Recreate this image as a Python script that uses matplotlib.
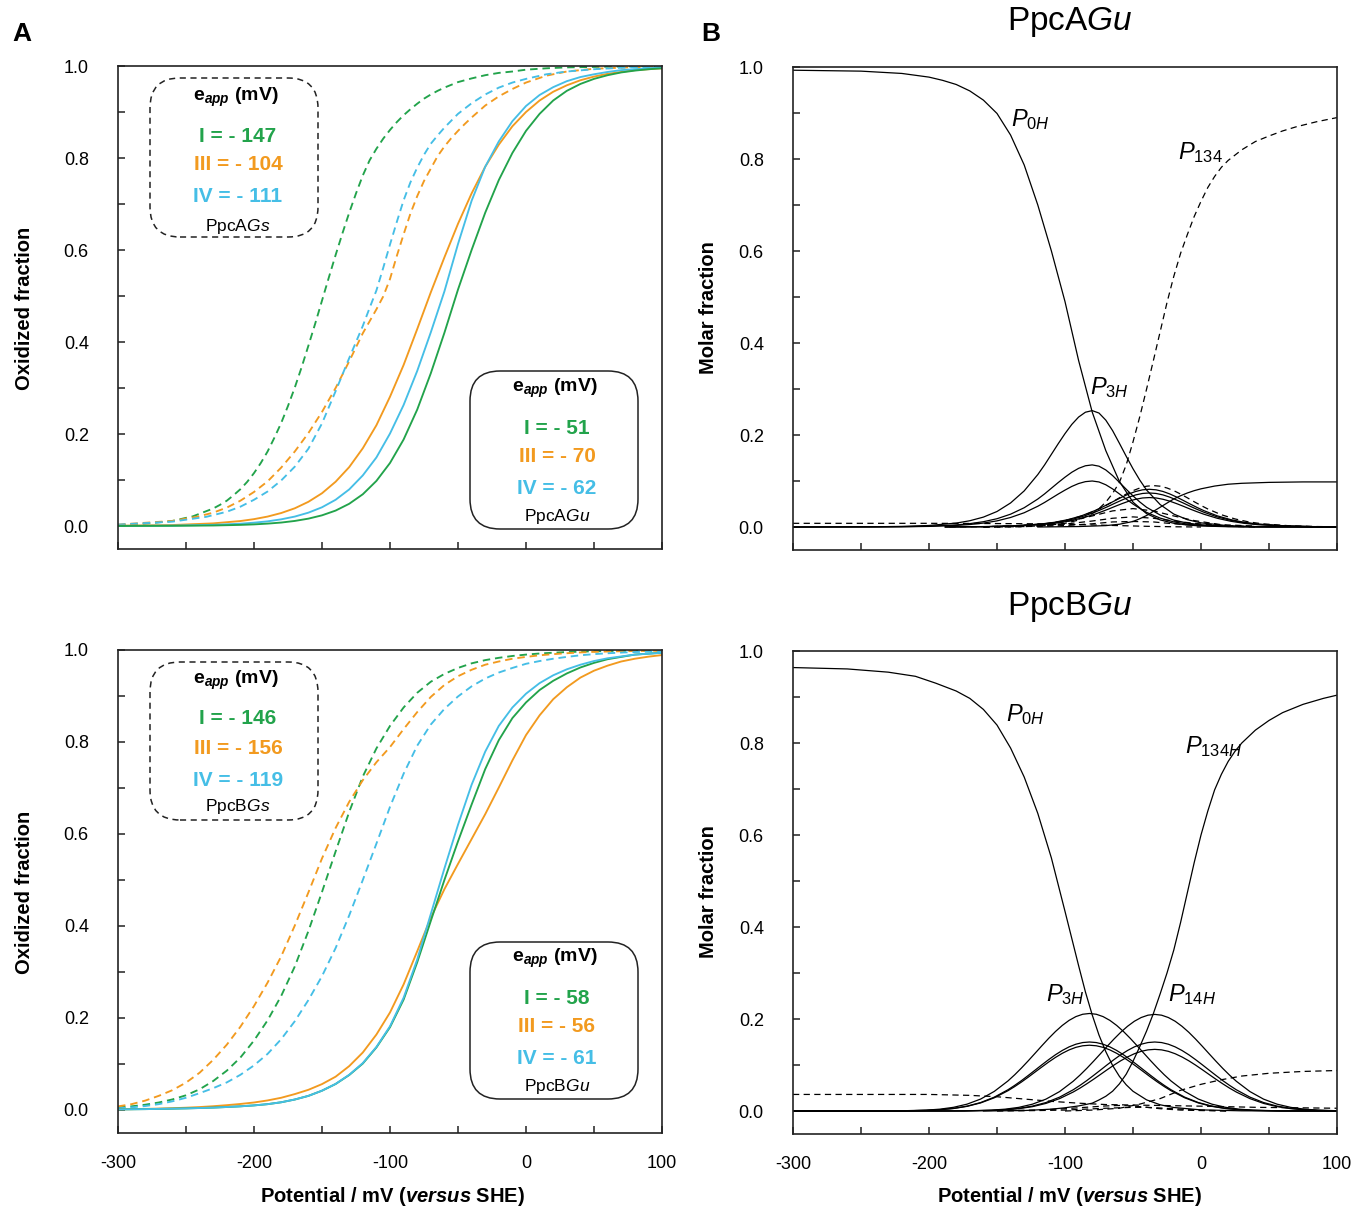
import matplotlib
matplotlib.use("Agg")
import matplotlib.pyplot as plt
from matplotlib.patches import FancyBboxPatch
from matplotlib.transforms import IdentityTransform
from matplotlib.ticker import MultipleLocator

plt.rcParams['font.family'] = 'Liberation Sans'
plt.rcParams['axes.unicode_minus'] = False
plt.rcParams['mathtext.fontset'] = 'custom'
plt.rcParams['mathtext.rm'] = 'Liberation Sans'
plt.rcParams['mathtext.it'] = 'Liberation Sans:italic'
plt.rcParams['mathtext.bf'] = 'Liberation Sans:bold'
plt.rcParams['mathtext.bfit'] = 'Liberation Sans:italic:bold'

W, H = 1351, 1210
GREEN, ORANGE, BLUE = "#22a34b", "#f29a1f", "#45bee6"

# ---------------- panel A top: PpcA (oxidized fraction) ----------------
a_gs_I_x = [-300, -280, -260, -245, -230, -225, -220, -215, -210, -205, -200, -195, -190, -185, -180, -175, -170, -165, -160, -155,
            -150, -145, -140, -135, -130, -125, -120, -115, -110, -105, -100, -95, -90, -85, -80, -75, -70, -65, -60,
            -50, -40, -30, -20, -10, 0, 15, 30, 50, 75, 100]
a_gs_I_y = [0.002, 0.005, 0.011, 0.021, 0.038, 0.046, 0.055, 0.067, 0.080, 0.096, 0.115, 0.137, 0.162, 0.192, 0.224, 0.261, 0.301, 0.345, 0.392, 0.44,
            0.49, 0.54, 0.589, 0.636, 0.681, 0.723, 0.762, 0.795, 0.82, 0.842, 0.861, 0.878, 0.893, 0.906, 0.918, 0.929, 0.938, 0.946, 0.953,
            0.965, 0.973, 0.98, 0.985, 0.988, 0.992, 0.995, 0.997, 0.998, 0.999, 1.0]
a_gs_III_x = [-300, -260, -242, -230, -220, -210, -200, -190, -180, -170, -160, -150, -140, -130, -120, -115, -110, -105, -100, -95,
              -90, -85, -80, -75, -70, -65, -60, -55, -50, -45, -40, -30, -20, -10, 0, 15, 30, 50, 75, 100]
a_gs_III_y = [0.003, 0.011, 0.020, 0.029, 0.040, 0.055, 0.074, 0.097, 0.127, 0.162, 0.202, 0.248, 0.30, 0.358, 0.419, 0.445, 0.471, 0.499, 0.537, 0.587,
              0.634, 0.679, 0.717, 0.75, 0.777, 0.804, 0.825, 0.843, 0.859, 0.874, 0.888, 0.914, 0.934, 0.95, 0.964, 0.979, 0.988, 0.994, 0.997, 0.999]
a_gs_IV_x = [-300, -260, -235, -220, -210, -200, -190, -180, -170, -160, -150, -140, -130, -120, -115, -110, -105, -100, -95, -90,
             -85, -80, -75, -70, -65, -60, -50, -40, -30, -20, -10, 0, 15, 30, 50, 75, 100]
a_gs_IV_y = [0.003, 0.0095, 0.020, 0.031, 0.042, 0.057, 0.075, 0.099, 0.129, 0.168, 0.223, 0.293, 0.365, 0.435, 0.474, 0.512, 0.561, 0.612, 0.661, 0.708,
             0.747, 0.779, 0.807, 0.831, 0.849, 0.866, 0.896, 0.919, 0.938, 0.953, 0.964, 0.972, 0.982, 0.988, 0.993, 0.997, 0.998]
a_gu_x = [-300, -260, -230, -210, -200, -190, -180, -170, -160, -150, -140, -130, -120, -110, -100, -90, -80, -70, -60, -50,
          -40, -30, -20, -10, 0, 10, 20, 30, 40, 50, 60, 70, 80, 90, 100]
a_gu_III_y = [0.0006, 0.0021, 0.0057, 0.0108, 0.0149, 0.0205, 0.0282, 0.0385, 0.0526, 0.0712, 0.0962, 0.128, 0.169, 0.219, 0.281, 0.35, 0.428, 0.508, 0.584, 0.657,
              0.723, 0.781, 0.829, 0.869, 0.90, 0.925, 0.944, 0.958, 0.969, 0.977, 0.983, 0.987, 0.991, 0.993, 0.995]
a_gu_IV_y = [0.0002, 0.0009, 0.0025, 0.005, 0.0072, 0.0101, 0.0145, 0.0205, 0.029, 0.0407, 0.057, 0.0795, 0.11, 0.149, 0.201, 0.263, 0.337, 0.421, 0.51, 0.613,
             0.707, 0.781, 0.836, 0.88, 0.913, 0.937, 0.954, 0.967, 0.976, 0.982, 0.987, 0.991, 0.993, 0.995, 0.997]
a_gu_I_y = [0.0001, 0.0004, 0.0011, 0.0024, 0.0035, 0.0052, 0.0075, 0.011, 0.016, 0.0232, 0.0335, 0.0483, 0.069, 0.098, 0.137, 0.188, 0.253, 0.332, 0.42, 0.514,
            0.60, 0.681, 0.752, 0.811, 0.859, 0.896, 0.925, 0.946, 0.961, 0.972, 0.98, 0.986, 0.99, 0.993, 0.995]

# ---------------- panel A bottom: PpcB (oxidized fraction) ----------------
b_x = [-300, -290, -280, -270, -260, -250, -240, -230, -220, -210, -200, -190, -180, -170, -160, -150, -140, -130, -120, -110,
       -100, -90, -80, -70, -60, -50, -40, -30, -20, -10, 0, 10, 20, 30, 40, 50, 60, 70, 80, 90, 100]
b_gs_III_y = [0.0078, 0.0127, 0.0204, 0.0308, 0.0431, 0.0595, 0.081, 0.109, 0.142, 0.181, 0.226, 0.277, 0.334, 0.401, 0.473, 0.547, 0.613, 0.67, 0.717, 0.756,
              0.789, 0.828, 0.865, 0.898, 0.924, 0.943, 0.957, 0.968, 0.975, 0.981, 0.985, 0.9885, 0.991, 0.993, 0.9947, 0.996, 0.9967, 0.9973, 0.9978, 0.9982, 0.9985]
b_gs_I_y = [0.0055, 0.008, 0.0115, 0.0163, 0.023, 0.032, 0.045, 0.063, 0.0855, 0.114, 0.151, 0.195, 0.248, 0.312, 0.389, 0.474, 0.562, 0.648, 0.725, 0.786,
            0.835, 0.875, 0.907, 0.931, 0.948, 0.961, 0.971, 0.978, 0.983, 0.987, 0.99, 0.9924, 0.9941, 0.9955, 0.9964, 0.9972, 0.9977, 0.9982, 0.9986, 0.9989, 0.9991]
b_gs_IV_y = [0.0037, 0.0057, 0.0086, 0.0127, 0.0189, 0.0266, 0.0366, 0.0474, 0.060, 0.0765, 0.097, 0.122, 0.154, 0.193, 0.239, 0.291, 0.352, 0.423, 0.50, 0.579,
             0.659, 0.731, 0.792, 0.838, 0.872, 0.899, 0.921, 0.938, 0.951, 0.961, 0.97, 0.976, 0.981, 0.985, 0.9885, 0.991, 0.9929, 0.9944, 0.9956, 0.9965, 0.9973]
b_gu_III_y = [0.0015, 0.0019, 0.0024, 0.0031, 0.0039, 0.005, 0.0064, 0.0082, 0.0105, 0.0131, 0.0163, 0.0208, 0.0266, 0.0346, 0.0439, 0.0563, 0.0724, 0.0954, 0.125, 0.164,
              0.212, 0.273, 0.345, 0.418, 0.48, 0.535, 0.589, 0.643, 0.701, 0.76, 0.815, 0.858, 0.893, 0.919, 0.94, 0.955, 0.966, 0.975, 0.981, 0.9855, 0.989]
b_gu_IV_y = [0.0013, 0.0016, 0.0019, 0.0024, 0.0029, 0.0035, 0.0043, 0.0052, 0.0065, 0.008, 0.01, 0.0127, 0.0168, 0.0228, 0.0307, 0.042, 0.0567, 0.0765, 0.102, 0.137,
             0.182, 0.244, 0.327, 0.426, 0.525, 0.62, 0.707, 0.779, 0.835, 0.875, 0.905, 0.928, 0.945, 0.958, 0.968, 0.976, 0.982, 0.986, 0.99, 0.992, 0.994]
b_gu_I_y = [0.0013, 0.0016, 0.0019, 0.0024, 0.0029, 0.0035, 0.0043, 0.0052, 0.0065, 0.008, 0.01, 0.0127, 0.0168, 0.0228, 0.0307, 0.042, 0.0565, 0.076, 0.101, 0.136,
            0.18, 0.24, 0.321, 0.411, 0.50, 0.584, 0.664, 0.741, 0.804, 0.852, 0.886, 0.913, 0.933, 0.949, 0.962, 0.972, 0.98, 0.985, 0.99, 0.992, 0.994]

# ---------------- panel B top: PpcAGu molar fractions ----------------
pa_0H_x = [-300, -250, -220, -200, -190, -180, -170, -160, -150, -140, -130, -120, -110, -100, -90, -80, -70, -60, -50, -40,
           -30, -20, -10, 0, 20, 50, 100]
pa_0H_y = [0.993, 0.991, 0.986, 0.978, 0.971, 0.962, 0.948, 0.928, 0.899, 0.852, 0.787, 0.70, 0.60, 0.49, 0.362, 0.25, 0.166, 0.099, 0.054, 0.029,
           0.0154, 0.0081, 0.0043, 0.0022, 0.0006, 0.0, 0.0]
pa_3H_x = [-300, -240, -220, -200, -180, -170, -160, -150, -140, -130, -120, -115, -110, -105, -100, -95, -90, -85, -80, -75,
           -70, -65, -60, -55, -50, -45, -40, -30, -20, -10, 0, 20, 40, 100]
pa_3H_y = [0.0, 0.0005, 0.0013, 0.0033, 0.0085, 0.0136, 0.0215, 0.0337, 0.0523, 0.0785, 0.114, 0.135, 0.158, 0.181, 0.203, 0.223, 0.239, 0.2495, 0.253, 0.2477,
           0.2323, 0.2095, 0.182, 0.1538, 0.1266, 0.1019, 0.0803, 0.0487, 0.0281, 0.0159, 0.009, 0.0028, 0.0009, 0.0]
pa_3b_y = [0.0, 0.0003, 0.0007, 0.0018, 0.0045, 0.0073, 0.0115, 0.018, 0.0279, 0.0419, 0.0608, 0.072, 0.0843, 0.0966, 0.1083, 0.119, 0.1275, 0.1331, 0.135, 0.1322,
           0.124, 0.1118, 0.0971, 0.0821, 0.0676, 0.0544, 0.0428, 0.026, 0.015, 0.0085, 0.0048, 0.0015, 0.0005, 0.0]
pa_3c_y = [0.0, 0.0002, 0.0005, 0.0013, 0.0034, 0.0054, 0.0085, 0.0133, 0.0207, 0.031, 0.0451, 0.0534, 0.0625, 0.0716, 0.0802, 0.0882, 0.0945, 0.0986, 0.10, 0.0979,
           0.0918, 0.0828, 0.0719, 0.0608, 0.05, 0.0403, 0.0317, 0.0193, 0.0111, 0.0063, 0.0036, 0.0011, 0.0004, 0.0]
pa_mid_x = [-188, -158, -138, -118, -108, -98, -88, -78, -73, -68, -63, -58, -53, -48, -43, -38, -33, -28, -23, -18,
            -13, -8, -3, 2, 12, 22, 32, 42, 62, 82, 100]
pa_mid1_y = [0.0002, 0.0009, 0.0025, 0.0064, 0.0101, 0.0159, 0.0242, 0.0357, 0.0426, 0.05, 0.0577, 0.0652, 0.0719, 0.0773, 0.0808, 0.082, 0.0808, 0.0773, 0.0719, 0.0652,
             0.0577, 0.05, 0.0426, 0.0357, 0.0242, 0.0159, 0.0101, 0.0064, 0.0025, 0.0009, 0.0004]
pa_mid2_y = [0.0002, 0.0008, 0.0022, 0.0058, 0.0091, 0.0144, 0.0219, 0.0322, 0.0385, 0.0451, 0.0521, 0.0588, 0.0649, 0.0698, 0.0729, 0.074, 0.0729, 0.0698, 0.0649, 0.0588,
             0.0521, 0.0451, 0.0385, 0.0322, 0.0219, 0.0144, 0.0091, 0.0058, 0.0022, 0.0008, 0.0004]
pa_mid3_y = [0.0002, 0.0007, 0.0019, 0.005, 0.0079, 0.0124, 0.0189, 0.0279, 0.0333, 0.039, 0.0451, 0.0509, 0.0562, 0.0603, 0.0631, 0.064, 0.0631, 0.0603, 0.0562, 0.0509,
             0.0451, 0.039, 0.0333, 0.0279, 0.0189, 0.0124, 0.0079, 0.005, 0.0019, 0.0007, 0.0003]
pa_midd_x = [-185, -155, -135, -115, -105, -95, -85, -75, -70, -65, -60, -55, -50, -45, -40, -35, -30, -25, -20, -15,
             -10, -5, 0, 5, 15, 25, 35, 45, 65, 85, 100]
pa_midd_y = [0.0002, 0.001, 0.0027, 0.007, 0.0111, 0.0175, 0.0266, 0.0392, 0.0468, 0.0549, 0.0634, 0.0716, 0.079, 0.0848, 0.0887, 0.09, 0.0887, 0.0848, 0.079, 0.0716,
             0.0634, 0.0549, 0.0468, 0.0392, 0.0266, 0.0175, 0.0111, 0.007, 0.0027, 0.001, 0.0005]
pa_small_x = [-160, -130, -110, -95, -80, -65, -50, -35, -20, -5, 15, 40]
pa_small1_y = [0.0, 0.002, 0.006, 0.014, 0.024, 0.035, 0.04, 0.035, 0.024, 0.014, 0.005, 0.002]
pa_small2_y = [0.0, 0.001, 0.004, 0.008, 0.013, 0.019, 0.022, 0.019, 0.013, 0.008, 0.003, 0.001]
pa_small3_y = [0.0, 0.001, 0.002, 0.004, 0.007, 0.011, 0.012, 0.011, 0.007, 0.004, 0.002, 0.0]
pa_flat_x = [-300, -200, -150, -120, -100, -80, -60, -40, -20, 0]
pa_flat_y = [0.008, 0.008, 0.0075, 0.007, 0.006, 0.0045, 0.003, 0.0015, 0.0005, 0.0]
pa_1234_x = [-120, -90, -80, -70, -60, -50, -45, -40, -35, -30, -25, -20, -15, -10, -5, 0, 10, 20, 30, 50, 75, 100]
pa_1234_y = [0.0, 0.001, 0.002, 0.003, 0.006, 0.012, 0.018, 0.025, 0.034, 0.043, 0.052, 0.061, 0.068, 0.074, 0.079, 0.083, 0.089, 0.093, 0.095, 0.097, 0.098, 0.098]
pa_134_x = [-150, -130, -115, -100, -90, -80, -75, -70, -65, -60, -55, -50, -45, -40, -35, -30, -25, -20, -15, -10,
            -5, 0, 5, 10, 15, 20, 30, 40, 50, 60, 70, 85, 100]
pa_134_y = [0.0, 0.001, 0.003, 0.008, 0.015, 0.029, 0.04, 0.054, 0.073, 0.097, 0.135, 0.185, 0.24, 0.30, 0.362, 0.425, 0.488, 0.545, 0.595, 0.636,
            0.675, 0.708, 0.738, 0.762, 0.782, 0.797, 0.82, 0.838, 0.85, 0.861, 0.87, 0.881, 0.89]

# ---------------- panel B bottom: PpcBGu molar fractions ----------------
pb_0H_x = [-300, -260, -230, -210, -195, -180, -170, -160, -150, -140, -130, -120, -110, -100, -95, -90, -85, -80, -75, -70,
           -65, -60, -55, -50, -40, -30, -20, 0, 30, 100]
pb_0H_y = [0.964, 0.961, 0.954, 0.945, 0.930, 0.913, 0.897, 0.873, 0.839, 0.789, 0.726, 0.647, 0.55, 0.434, 0.375, 0.316, 0.259, 0.209, 0.165, 0.129,
           0.099, 0.0753, 0.057, 0.0429, 0.0242, 0.0135, 0.0076, 0.0024, 0.0004, 0.0]
pb_134H_x = [-160, -130, -110, -100, -90, -85, -80, -75, -70, -65, -60, -55, -50, -45, -40, -35, -30, -25, -20, -15,
             -10, -5, 0, 5, 10, 15, 20, 25, 30, 40, 50, 60, 75, 90, 100]
pb_134H_y = [0.0, 0.001, 0.004, 0.007, 0.011, 0.014, 0.017, 0.024, 0.032, 0.043, 0.059, 0.08, 0.108, 0.14, 0.174, 0.212, 0.255, 0.30, 0.35, 0.41,
             0.475, 0.54, 0.60, 0.652, 0.698, 0.732, 0.76, 0.782, 0.80, 0.828, 0.849, 0.866, 0.884, 0.897, 0.904]
pb_3H_x = [-300, -240, -222, -202, -192, -182, -172, -162, -152, -142, -137, -132, -127, -122, -117, -112, -107, -102, -97, -92,
           -87, -82, -77, -72, -67, -62, -57, -52, -47, -42, -37, -32, -27, -22, -12, -2, 8, 18, 28, 38, 58, 78, 100]
pb_3H_y = [0.0, 0.0001, 0.0003, 0.0019, 0.004, 0.008, 0.0149, 0.026, 0.0426, 0.0652, 0.0787, 0.0935, 0.1092, 0.1255, 0.1419, 0.1579, 0.1728, 0.186, 0.197, 0.2052,
           0.2103, 0.212, 0.2103, 0.2052, 0.197, 0.186, 0.1728, 0.1579, 0.1419, 0.1255, 0.1092, 0.0935, 0.0787, 0.0652, 0.0426, 0.026, 0.0149, 0.008, 0.004, 0.0019, 0.0003, 0.0, 0.0]
pb_3b_y = [0.0, 0.0, 0.0002, 0.0013, 0.0029, 0.0057, 0.0106, 0.0184, 0.0301, 0.0461, 0.0557, 0.0661, 0.0773, 0.0888, 0.1004, 0.1117, 0.1223, 0.1316, 0.1394, 0.1452,
           0.1488, 0.15, 0.1488, 0.1452, 0.1394, 0.1316, 0.1223, 0.1117, 0.1004, 0.0888, 0.0773, 0.0661, 0.0557, 0.0461, 0.0301, 0.0184, 0.0106, 0.0057, 0.0029, 0.0013, 0.0002, 0.0, 0.0]
pb_3c_y = [0.0, 0.0, 0.0002, 0.0013, 0.0027, 0.0054, 0.0101, 0.0176, 0.0287, 0.044, 0.0531, 0.063, 0.0736, 0.0847, 0.0957, 0.1065, 0.1165, 0.1254, 0.1328, 0.1384,
           0.1418, 0.143, 0.1418, 0.1384, 0.1328, 0.1254, 0.1165, 0.1065, 0.0957, 0.0847, 0.0736, 0.063, 0.0531, 0.044, 0.0287, 0.0176, 0.0101, 0.0054, 0.0027, 0.0013, 0.0002, 0.0, 0.0]
pb_14H_x = [-300, -192, -174, -154, -144, -134, -124, -114, -104, -94, -89, -84, -79, -74, -69, -64, -59, -54, -49, -44,
            -39, -34, -29, -24, -19, -14, -9, -4, 1, 6, 11, 16, 21, 26, 36, 46, 56, 66, 76, 86, 100]
pb_14H_y = [0.0, 0.0001, 0.0003, 0.0019, 0.004, 0.0079, 0.0148, 0.0258, 0.0422, 0.0646, 0.078, 0.0926, 0.1082, 0.1243, 0.1406, 0.1564, 0.1712, 0.1842, 0.1951, 0.2032,
            0.2083, 0.21, 0.2083, 0.2032, 0.1951, 0.1842, 0.1712, 0.1564, 0.1406, 0.1243, 0.1082, 0.0926, 0.078, 0.0646, 0.0422, 0.0258, 0.0148, 0.0079, 0.004, 0.0019, 0.0006]
pb_14b_y = [0.0, 0.0, 0.0002, 0.0013, 0.0029, 0.0057, 0.0106, 0.0184, 0.0301, 0.0461, 0.0557, 0.0661, 0.0773, 0.0888, 0.1004, 0.1117, 0.1223, 0.1316, 0.1394, 0.1452,
            0.1488, 0.15, 0.1488, 0.1452, 0.1394, 0.1316, 0.1223, 0.1117, 0.1004, 0.0888, 0.0773, 0.0661, 0.0557, 0.0461, 0.0301, 0.0184, 0.0106, 0.0057, 0.0029, 0.0013, 0.0004]
pb_14c_y = [0.0, 0.0, 0.0002, 0.0012, 0.0025, 0.0051, 0.0094, 0.0165, 0.0269, 0.0412, 0.0497, 0.0591, 0.069, 0.0793, 0.0897, 0.0998, 0.1092, 0.1175, 0.1245, 0.1297,
            0.1329, 0.134, 0.1329, 0.1297, 0.1245, 0.1175, 0.1092, 0.0998, 0.0897, 0.0793, 0.069, 0.0591, 0.0497, 0.0412, 0.0269, 0.0165, 0.0094, 0.0051, 0.0025, 0.0012, 0.0004]
pb_flat_x = [-300, -200, -170, -150, -130, -110, -90, -70, -50, -30, -10, 10, 40, 70, 100]
pb_flat_y = [0.036, 0.036, 0.034, 0.031, 0.026, 0.021, 0.017, 0.014, 0.013, 0.012, 0.011, 0.01, 0.008, 0.007, 0.006]
pb_rise_x = [-100, -80, -60, -45, -30, -15, 0, 15, 30, 50, 75, 100]
pb_rise_y = [0.0, 0.002, 0.006, 0.015, 0.027, 0.045, 0.058, 0.068, 0.076, 0.082, 0.086, 0.088]
pb_small_x = [-150, -120, -100, -85, -70, -60, -50, -40, -30, -15, 0, 20]
pb_small1_y = [0.001, 0.002, 0.005, 0.008, 0.011, 0.012, 0.011, 0.008, 0.005, 0.002, 0.001, 0.0]
pb_small2_y = [0.0, 0.001, 0.002, 0.004, 0.006, 0.007, 0.008, 0.008, 0.0065, 0.004, 0.002, 0.0]

fig = plt.figure(figsize=(W / 100, H / 100), dpi=100)


def px_axes(l, t, r, b):
    return fig.add_axes([l / W, 1 - b / H, (r - l) / W, (b - t) / H])


def style(ax, xlabels):
    ax.set_xlim(-300, 100)
    ax.set_ylim(-0.05, 1.0)
    ax.set_xticks([-300, -200, -100, 0, 100])
    ax.xaxis.set_minor_locator(MultipleLocator(50))
    ax.set_yticks([0, 0.2, 0.4, 0.6, 0.8, 1.0])
    ax.set_yticklabels(["0.0", "0.2", "0.4", "0.6", "0.8", "1.0"])
    ax.yaxis.set_minor_locator(MultipleLocator(0.1))
    ax.tick_params(which="both", direction="in", length=5, width=1.1, top=False, right=False, color="#222")
    ax.tick_params(axis="y", which="major", pad=21, labelsize=13)
    ax.tick_params(axis="x", which="major", pad=16, labelsize=13, labelbottom=xlabels)
    for s in ax.spines.values():
        s.set_linewidth(1.2)
        s.set_color("#222")


LW_C = 1.35
DASH_C = (0, (4, 2.6))
LW_K = 0.9
DASH_K = (0, (5, 3.5))

ax1 = px_axes(118, 66, 662, 549)
ax2 = px_axes(793, 67, 1337, 550)
ax3 = px_axes(118, 650, 662, 1133)
ax4 = px_axes(793, 651, 1337, 1134)

# left panels
for ax, curves in [
    (ax1, [(a_gs_I_x, a_gs_I_y, GREEN, DASH_C), (a_gs_III_x, a_gs_III_y, ORANGE, DASH_C),
           (a_gs_IV_x, a_gs_IV_y, BLUE, DASH_C), (a_gu_x, a_gu_III_y, ORANGE, "-"),
           (a_gu_x, a_gu_IV_y, BLUE, "-"), (a_gu_x, a_gu_I_y, GREEN, "-")]),
    (ax3, [(b_x, b_gs_I_y, GREEN, DASH_C), (b_x, b_gs_III_y, ORANGE, DASH_C),
           (b_x, b_gs_IV_y, BLUE, DASH_C), (b_x, b_gu_III_y, ORANGE, "-"),
           (b_x, b_gu_I_y, GREEN, "-"), (b_x, b_gu_IV_y, BLUE, "-")]),
]:
    for xs, ys, c, ls in curves:
        ax.plot(xs, ys, color=c, lw=LW_C, ls=ls, solid_joinstyle="round")

# right top
for xs, ys in [(pa_0H_x, pa_0H_y), (pa_3H_x, pa_3H_y), (pa_3H_x, pa_3b_y), (pa_3H_x, pa_3c_y),
               (pa_mid_x, pa_mid1_y), (pa_mid_x, pa_mid2_y), (pa_mid_x, pa_mid3_y), (pa_1234_x, pa_1234_y)]:
    ax2.plot(xs, ys, color="k", lw=LW_K, solid_joinstyle="round")
for xs, ys in [(pa_134_x, pa_134_y), (pa_midd_x, pa_midd_y), (pa_small_x, pa_small1_y),
               (pa_small_x, pa_small2_y), (pa_small_x, pa_small3_y), (pa_flat_x, pa_flat_y)]:
    ax2.plot(xs, ys, color="k", lw=LW_K, ls=DASH_K)

# right bottom
for xs, ys in [(pb_0H_x, pb_0H_y), (pb_134H_x, pb_134H_y), (pb_3H_x, pb_3H_y), (pb_3H_x, pb_3b_y),
               (pb_3H_x, pb_3c_y), (pb_14H_x, pb_14H_y), (pb_14H_x, pb_14b_y), (pb_14H_x, pb_14c_y)]:
    ax4.plot(xs, ys, color="k", lw=LW_K, solid_joinstyle="round")
for xs, ys in [(pb_flat_x, pb_flat_y), (pb_rise_x, pb_rise_y), (pb_small_x, pb_small1_y), (pb_small_x, pb_small2_y)]:
    ax4.plot(xs, ys, color="k", lw=LW_K, ls=DASH_K)

style(ax1, False)
style(ax2, False)
style(ax3, True)
style(ax4, True)


def ftext(x, y, s, **kw):
    fig.text(x / W, 1 - y / H, s, **kw)


# axis titles
for x, y in [(25, 308), (25, 892)]:
    ftext(x, y, "Oxidized fraction", rotation=90, ha="center", va="center", fontsize=14.5, fontweight="bold")
for x, y in [(708, 308), (708, 892)]:
    ftext(x, y, "Molar fraction", rotation=90, ha="center", va="center", fontsize=14.5, fontweight="bold")
for x in [392, 1069]:
    ftext(x, 1197, r"Potential / mV ($\mathbfit{versus}$ SHE)", ha="center", va="center", fontsize=14.5, fontweight="bold")

ftext(22, 34, "A", ha="center", va="center", fontsize=19, fontweight="bold")
ftext(711, 34, "B", ha="center", va="center", fontsize=19, fontweight="bold")
ftext(1070, 22, r"PpcA$\mathit{Gu}$", ha="center", va="center", fontsize=24)
ftext(1070, 607, r"PpcB$\mathit{Gu}$", ha="center", va="center", fontsize=24)


# legend boxes
def rbox(l, t, r, b, ls):
    p = FancyBboxPatch((l, H - b), r - l, b - t, boxstyle="round,pad=0,rounding_size=30",
                       transform=IdentityTransform(), fill=False, lw=1.1, ec="#222", ls=ls)
    fig.add_artist(p)


eapp = r"$\mathbf{e}_{\mathbfit{app}}$ (mV)"
boxes = [
    ((150, 78, 318, 237), (0, (4, 3)), 236, [97, 136, 165, 196.5, 226], ["- 147", "- 104", "- 111"], r"PpcA$\mathit{Gs}$"),
    ((470, 371, 638, 529), "-", 555, [388, 429, 457, 488.5, 517], ["- 51", "- 70", "- 62"], r"PpcA$\mathit{Gu}$"),
    ((150, 662, 318, 820), (0, (4, 3)), 236, [680, 719, 748, 780, 807], ["- 146", "- 156", "- 119"], r"PpcB$\mathit{Gs}$"),
    ((470, 942, 638, 1099), "-", 555, [958.5, 998, 1027, 1058.5, 1087], ["- 58", "- 56", "- 61"], r"PpcB$\mathit{Gu}$"),
]
for (l, t, r, b), ls, cx, ys, vals, name in boxes:
    rbox(l, t, r, b, ls)
    ftext(cx, ys[0], eapp, ha="center", va="center", fontsize=14, fontweight="bold")
    for yy, lab, v, c in zip(ys[1:4], ["I", "III", "IV"], vals, [GREEN, ORANGE, BLUE]):
        ftext(cx + 2, yy, f"{lab} = {v}", ha="center", va="center", fontsize=15, fontweight="bold", color=c)
    ftext(cx + 2, ys[4], name, ha="center", va="center", fontsize=12.5)


# species labels
def plab(x, y, sub):
    ftext(x, y, r"$\mathit{P}_{\mathit{%s}}$" % sub, ha="left", va="center", fontsize=17)


plab(1011, 120, "0H")
plab(1178, 153, "134")
plab(1090, 388, "3H")
plab(1006, 715, "0H")
plab(1185, 747, "134H")
plab(1046, 995, "3H")
plab(1168, 995, "14H")

fig.savefig("out.png", dpi=100)
